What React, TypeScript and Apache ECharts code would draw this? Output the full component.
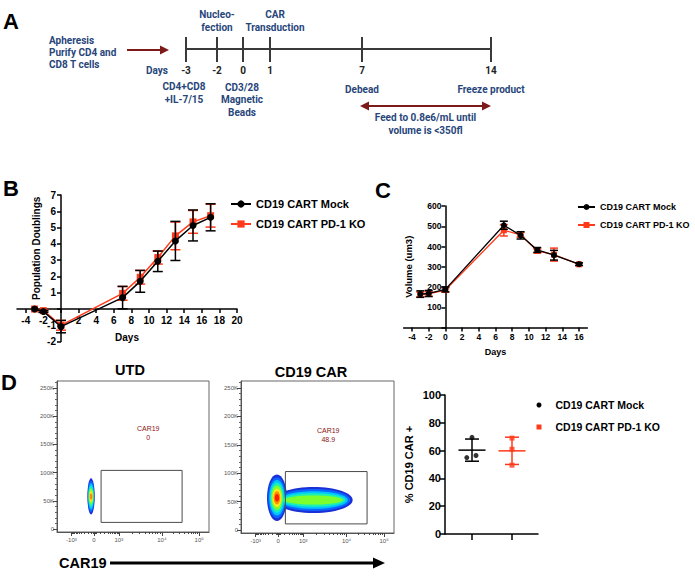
import React, { useEffect, useRef } from "react";
import * as echarts from "echarts";

const F = "'Liberation Sans', Arial, Helvetica, sans-serif";
const FA = "Roboto, 'Liberation Sans', sans-serif";
const RED = "#ff3a1a";
const NAVY = "#28467a";
const DARKRED = "#7d1b1b";
const MOCK = "CD19 CART Mock";
const KO = "CD19 CART PD-1 KO";

// ---- Panel A (schematic timeline)
const timelineDays = ["-3", "-2", "0", "1", "7", "14"];
const timelinePx = [186, 217, 243, 270, 362, 491];

// ---- Panel B: population doublings
const popDays = [-3, -2, 0, 7, 9, 11, 13, 15, 17];
const popMock = [0, -0.15, -1.08, 0.7, 1.7, 2.93, 4.18, 5.13, 5.63];
const popMockSD = [0, 0.06, 0.38, 0.69, 0.67, 0.63, 1.2, 0.95, 0.83];
const popKO = [0, -0.1, -1.0, 0.96, 1.95, 3.16, 4.49, 5.35, 5.73];
const popKOSD = [0, 0.05, 0.3, 0.42, 0.42, 0.4, 0.85, 0.7, 0.7];
const popXTicks = [-4, -2, 0, 2, 4, 6, 8, 10, 12, 14, 16, 18, 20];
const popXLabels = [-4, -2, 2, 4, 6, 8, 10, 12, 14, 16, 18, 20];
const popYTicks = [-2, -1, 0, 1, 2, 3, 4, 5, 6, 7];
const popYLabels = [-2, -1, 1, 2, 3, 4, 5, 6, 7];

// ---- Panel C: cell volume
const volDays = [-3, -2, 0, 7, 9, 11, 13, 16];
const volMock = [165, 168, 188, 505, 455, 383, 357, 313];
const volMockSD = [16, 15, 12, 20, 18, 12, 24, 6];
const volKO = [163, 166, 185, 480, 458, 378, 360, 312];
const volKOSD = [12, 12, 10, 28, 12, 10, 32, 7];
const volXTicks = [-4, -2, 0, 2, 4, 6, 8, 10, 12, 14, 16];
const volYTicks = [0, 100, 200, 300, 400, 500, 600];
const volYLabels = [100, 200, 300, 400, 500, 600];

// ---- Panel D: flow plots
const flowXTicks = [9.5, 24.3, 40.7, 69, 93.5];
const flowXLabels = ["-10³", "0", "10³", "10⁴", "10⁵"];
const flowYTicks = [0, 50000, 100000, 150000, 200000, 250000];
const flowYLabels = ["0", "50K", "100K", "150K", "200K", "250K"];
// [x, y, rx, ry, peak level, inner x scale, inner y scale]
const utdEvents = [[22.4, 58000, 2.4, 32000, 6, 0.4, 0.18]];
const carEvents = [
  [47.5, 53000, 25.5, 23000, 4, 0.75, 0.35],
  [23.5, 57000, 6.5, 41000, 7, 0.22, 0.16],
];
const utdGate = [[29, 12000, 82.3, 104000, 60, 170000]];
const carGate = [[29, 11000, 82.4, 103000, 57, 168000]];
const utdGateLabel = ["CAR19", "0"];
const carGateLabel = ["CAR19", "48.9"];

// ---- Panel D: % CAR+
const mockCAR = [69.5, 55, 56.5];
const mockJitter = [1.0, 0.87, 1.1];
const koCAR = [69, 61, 49.5];
const koJitter = [2, 2, 2];

const densityColors = ["#1b2fd6", "#0a66ff", "#00c4ff", "#1cf0b4", "#7dff2e", "#ffe61a", "#ff8c00", "#ff1c00"];

function biexPos(v: number) {
  const a = Math.asinh(Math.abs(v) / 150) / Math.asinh(1000 / 150);
  if (Math.abs(v) <= 1000) return v >= 0 ? 24.3 + 16.4 * a : 24.3 - 14.8 * a;
  if (v <= 10000) return 40.7 + 28.3 * Math.log10(v / 1000);
  return 69 + 24.5 * Math.log10(v / 10000);
}
const minorVals: number[] = [];
for (let k = 1; k <= 9; k++) { minorVals.push(-k * 100, k * 100); }
[-40, -20, 20, 40].forEach((v) => minorVals.push(v));
for (let k = 2; k <= 9; k++) { minorVals.push(k * 1000, k * 10000); }
const flowMinorX = minorVals.map(biexPos).filter((p) => p > 0 && p < 100);
const flowMinorY: number[] = [];
for (let v = 10000; v <= 260000; v += 10000) if (v % 50000 !== 0) flowMinorY.push(v);

const mean = (a: number[]) => a.reduce((s, v) => s + v, 0) / a.length;
const sd = (a: number[]) => {
  const m = mean(a);
  return Math.sqrt(a.reduce((s, v) => s + (v - m) * (v - m), 0) / (a.length - 1));
};

function errorBars(cap: number, lw: number) {
  return (params: any, api: any) => {
    const x = api.value(0);
    const top = api.coord([x, api.value(2)]);
    const bot = api.coord([x, api.value(1)]);
    const style = { stroke: api.visual("color"), lineWidth: lw, fill: null };
    return {
      type: "group",
      children: [
        { type: "line", shape: { x1: top[0], y1: top[1], x2: bot[0], y2: bot[1] }, style },
        { type: "line", shape: { x1: top[0] - cap, y1: top[1], x2: top[0] + cap, y2: top[1] }, style },
        { type: "line", shape: { x1: bot[0] - cap, y1: bot[1], x2: bot[0] + cap, y2: bot[1] }, style },
      ],
    };
  };
}

function meanSD(halfW: number, cap: number, lw: number) {
  return (params: any, api: any) => {
    const x = api.value(0), m = api.value(1), s = api.value(2);
    const pm = api.coord([x, m]);
    const pt = api.coord([x, m + s]);
    const pb = api.coord([x, m - s]);
    const style = { stroke: api.visual("color"), lineWidth: lw, fill: null };
    return {
      type: "group",
      children: [
        { type: "line", shape: { x1: pm[0] - halfW, y1: pm[1], x2: pm[0] + halfW, y2: pm[1] }, style },
        { type: "line", shape: { x1: pt[0], y1: pt[1], x2: pb[0], y2: pb[1] }, style },
        { type: "line", shape: { x1: pt[0] - cap, y1: pt[1], x2: pt[0] + cap, y2: pt[1] }, style },
        { type: "line", shape: { x1: pb[0] - cap, y1: pb[1], x2: pb[0] + cap, y2: pb[1] }, style },
      ],
    };
  };
}

function density(params: any, api: any) {
  const c = api.coord([api.value(0), api.value(1)]);
  const s = api.size([api.value(2), api.value(3)]);
  const peak = api.value(4), kx = api.value(5), ky = api.value(6);
  const children: any[] = [];
  for (let i = 0; i <= peak; i++) {
    const t = peak === 0 ? 0 : i / peak;
    children.push({
      type: "ellipse",
      z2: i,
      shape: { cx: c[0], cy: c[1], rx: s[0] * (1 - t * (1 - kx)), ry: s[1] * (1 - t * (1 - ky)) },
      style: { fill: densityColors[i] },
    });
  }
  return { type: "group", children };
}

function gate(labelLines: string[]) {
  return (params: any, api: any) => {
    const p1 = api.coord([api.value(0), api.value(3)]);
    const p2 = api.coord([api.value(2), api.value(1)]);
    const pl = api.coord([api.value(4), api.value(5)]);
    return {
      type: "group",
      children: [
        { type: "rect", z2: 20, shape: { x: p1[0], y: p1[1], width: p2[0] - p1[0], height: p2[1] - p1[1] }, style: { fill: "transparent", stroke: "#4a4a4a", lineWidth: 1 } },
        { type: "text", z2: 20, x: pl[0], y: pl[1], style: { text: labelLines.join("\n"), fill: "#8b1414", font: "7px " + F, align: "center", textAlign: "center", verticalAlign: "middle", textVerticalAlign: "middle", lineHeight: 9 } },
      ],
    };
  };
}

function txt(text: string, x: number, y: number, font: string, fill: string, align = "center", lineHeight = 12) {
  return {
    type: "text", x, y,
    style: { text, font, fill, align, textAlign: align, verticalAlign: "middle", textVerticalAlign: "middle", lineHeight },
  };
}

function buildGraphic() {
  const g: any[] = [];
  const ab = "bold 10px " + FA;
  // panel letters
  g.push(txt("A", 3, 21, "bold 22px " + F, "#000", "left"));
  g.push(txt("B", 3, 188, "bold 22px " + F, "#000", "left"));
  g.push(txt("C", 375, 190, "bold 22px " + F, "#000", "left"));
  g.push(txt("D", 1, 382, "bold 22px " + F, "#000", "left"));
  // timeline
  g.push({ type: "line", shape: { x1: timelinePx[0], y1: 49, x2: timelinePx[timelinePx.length - 1], y2: 49 }, style: { stroke: "#3a3a3a", lineWidth: 2 } });
  timelinePx.forEach((px, i) => {
    g.push({ type: "line", shape: { x1: px, y1: 37, x2: px, y2: 62 }, style: { stroke: "#3a3a3a", lineWidth: 2 } });
    g.push(txt(timelineDays[i], px, 70, ab, "#222"));
  });
  g.push(txt("Days", 157, 70, ab, NAVY));
  g.push(txt("Apheresis\nPurify CD4 and\nCD8 T cells", 49, 52, ab, NAVY, "left", 12));
  g.push({ type: "line", shape: { x1: 127, y1: 50, x2: 162, y2: 50 }, style: { stroke: DARKRED, lineWidth: 2 } });
  g.push({ type: "polygon", shape: { points: [[160, 45.5], [169, 50], [160, 54.5]] }, style: { fill: DARKRED } });
  g.push(txt("Nucleo-\nfection", 217, 21, ab, NAVY, "center", 12.5));
  g.push(txt("CAR\nTransduction", 275, 21, ab, NAVY, "center", 12.5));
  g.push(txt("CD4+CD8\n+IL-7/15", 184, 93, ab, NAVY, "center", 12.5));
  g.push(txt("CD3/28\nMagnetic\nBeads", 242, 99.5, ab, NAVY, "center", 12.5));
  g.push(txt("Debead", 362, 89, ab, NAVY));
  g.push(txt("Freeze product", 491, 89, ab, NAVY));
  g.push({ type: "line", shape: { x1: 366, y1: 106, x2: 485, y2: 106 }, style: { stroke: DARKRED, lineWidth: 2 } });
  g.push({ type: "polygon", shape: { points: [[360, 106], [369, 101.5], [369, 110.5]] }, style: { fill: DARKRED } });
  g.push({ type: "polygon", shape: { points: [[491, 106], [482, 101.5], [482, 110.5]] }, style: { fill: DARKRED } });
  g.push(txt("Feed to 0.8e6/mL until\nvolume is <350fl", 425.5, 124, ab, NAVY, "center", 12.5));
  // flow titles
  g.push(txt("UTD", 130, 370, "bold 14.5px " + F, "#000"));
  g.push(txt("CD19 CAR", 311, 372, "bold 14.5px " + F, "#000"));
  g.push(txt("CAR19", 59, 563, "bold 14.5px " + F, "#000", "left"));
  g.push({ type: "line", shape: { x1: 110, y1: 563, x2: 376, y2: 563 }, style: { stroke: "#000", lineWidth: 3 } });
  g.push({ type: "polygon", shape: { points: [[373, 557.5], [385, 563], [373, 568.5]] }, style: { fill: "#000" } });
  return g;
}

const axisLineBlack = { lineStyle: { color: "#000", width: 1.5 } };
const boldLabel = (size: number) => ({ fontFamily: F, fontWeight: "bold" as const, fontSize: size, color: "#000" });

function flowAxes(gridIndex: number) {
  const xMajor = {
    type: "value", gridIndex, min: 0, max: 100, position: "bottom",
    axisLine: { show: true, onZero: false, lineStyle: { color: "#555", width: 1 } },
    axisTick: { show: true, customValues: flowXTicks, length: 4, lineStyle: { color: "#444" } },
    axisLabel: { show: true, customValues: flowXTicks, margin: 5, fontSize: 6, fontFamily: F, color: "#555", formatter: (v: number) => flowXLabels[flowXTicks.indexOf(v)] ?? "" },
    splitLine: { show: false },
  };
  const xMinor = {
    type: "value", gridIndex, min: 0, max: 100, position: "bottom",
    axisLine: { show: false, onZero: false },
    axisTick: { show: true, customValues: flowMinorX, length: 2, lineStyle: { color: "#444" } },
    axisLabel: { show: false },
    splitLine: { show: false },
  };
  const yMajor = {
    type: "value", gridIndex, min: -5000, max: 262144, position: "left",
    axisLine: { show: true, onZero: false, lineStyle: { color: "#555", width: 1 } },
    axisTick: { show: true, customValues: flowYTicks, length: 4, lineStyle: { color: "#444" } },
    axisLabel: { show: true, customValues: flowYTicks, margin: 3, fontSize: 6, fontFamily: F, color: "#555", formatter: (v: number) => flowYLabels[flowYTicks.indexOf(v)] ?? "" },
    splitLine: { show: false },
  };
  const yMinor = {
    type: "value", gridIndex, min: -5000, max: 262144, position: "left",
    axisLine: { show: false, onZero: false },
    axisTick: { show: true, customValues: flowMinorY, length: 2, lineStyle: { color: "#666" } },
    axisLabel: { show: false },
    splitLine: { show: false },
  };
  return { xMajor, xMinor, yMajor, yMinor };
}

// grid geometry (B and C) so the axes cross at zero like the GraphPad originals
const gB = { left: 17, top: 195, width: 220, height: 146.6 };
const gC = { left: 403.6, top: 206, width: 183.8, height: 121.5 };
const bXRange = [-5, 20], bYRange = [-2, 7], cXRange = [-5, 17];
const bYOffset = -(gB.width * (0 - bXRange[0])) / (bXRange[1] - bXRange[0]);
const bXOffset = -(gB.height * (0 - bYRange[0])) / (bYRange[1] - bYRange[0]);
const cYOffset = -(gC.width * (0 - cXRange[0])) / (cXRange[1] - cXRange[0]);

function buildOption() {
  const f1 = flowAxes(2);
  const f2 = flowAxes(3);
  const errData = (xs: number[], ys: number[], sds: number[]) =>
    xs.map((x, i) => [x, ys[i] - sds[i], ys[i] + sds[i]]).filter((_, i) => sds[i] > 0);
  const zip = (xs: number[], ys: number[]) => xs.map((x, i) => [x, ys[i]]);

  return {
    animation: false,
    backgroundColor: "#fff",
    textStyle: { fontFamily: F },
    graphic: { elements: buildGraphic() },
    grid: [
      gB,
      gC,
      { left: 57, top: 381, width: 152, height: 151, show: true, borderColor: "#666", borderWidth: 1 },
      { left: 241, top: 381, width: 153, height: 152, show: true, borderColor: "#666", borderWidth: 1 },
      { left: 445, top: 395, width: 93, height: 139 },
    ],
    xAxis: [
      {
        type: "value", gridIndex: 0, min: bXRange[0], max: bXRange[1], position: "bottom", offset: bXOffset,
        axisLine: { onZero: false, ...axisLineBlack },
        axisTick: { customValues: popXTicks, length: 4, lineStyle: { color: "#000", width: 1.5 } },
        axisLabel: { customValues: popXLabels, margin: 6, ...boldLabel(10) },
        splitLine: { show: false },
        name: "Days", nameLocation: "middle", nameGap: 23, nameTextStyle: boldLabel(10),
      },
      {
        type: "value", gridIndex: 1, min: cXRange[0], max: cXRange[1], position: "bottom",
        axisLine: { onZero: false, ...axisLineBlack },
        axisTick: { customValues: volXTicks, length: 4, lineStyle: { color: "#000", width: 1.5 } },
        axisLabel: { customValues: volXTicks, margin: 5, ...boldLabel(8.5) },
        splitLine: { show: false },
        name: "Days", nameLocation: "middle", nameGap: 20, nameTextStyle: boldLabel(9),
      },
      f1.xMajor, f1.xMinor, f2.xMajor, f2.xMinor,
      {
        type: "value", gridIndex: 4, min: 0.325, max: 2.65,
        axisLine: { onZero: false, ...axisLineBlack },
        axisTick: { customValues: [1, 2], length: 6, lineStyle: { color: "#000", width: 1.5 } },
        axisLabel: { show: false },
        splitLine: { show: false },
      },
    ],
    yAxis: [
      {
        type: "value", gridIndex: 0, min: bYRange[0], max: bYRange[1], position: "left", offset: bYOffset,
        axisLine: { onZero: false, ...axisLineBlack },
        axisTick: { customValues: popYTicks, length: 4, lineStyle: { color: "#000", width: 1.5 } },
        axisLabel: { customValues: popYLabels, margin: 5, ...boldLabel(10) },
        splitLine: { show: false },
        name: "Population Doublings", nameLocation: "middle", nameGap: 20,
        nameTextStyle: { ...boldLabel(10), padding: [0, 0, 0, 40] },
      },
      {
        type: "value", gridIndex: 1, min: 0, max: 600, position: "left", offset: cYOffset,
        axisLine: { onZero: false, ...axisLineBlack },
        axisTick: { customValues: volYTicks, length: 4, lineStyle: { color: "#000", width: 1.5 } },
        axisLabel: { customValues: volYLabels, margin: 4, ...boldLabel(8.5) },
        splitLine: { show: false },
        name: "Volume (um3)", nameLocation: "middle", nameGap: 32, nameTextStyle: boldLabel(9.5),
      },
      f1.yMajor, f1.yMinor, f2.yMajor, f2.yMinor,
      {
        type: "value", gridIndex: 4, min: 0, max: 100, interval: 20,
        axisLine: { onZero: false, ...axisLineBlack },
        axisTick: { length: 5, lineStyle: { color: "#000", width: 1.5 } },
        axisLabel: { margin: 4, ...boldLabel(11) },
        splitLine: { show: false },
        name: "% CD19 CAR +", nameLocation: "middle", nameGap: 31, nameTextStyle: boldLabel(11),
      },
    ],
    legend: [
      {
        left: 230, top: 197.5, orient: "vertical", padding: 0, itemWidth: 20, itemHeight: 9, itemGap: 7,
        textStyle: { ...boldLabel(11), lineHeight: 13 }, data: [MOCK, KO], selectedMode: false,
      },
      {
        left: 577, top: 201.5, orient: "vertical", padding: 0, itemWidth: 17, itemHeight: 7.5, itemGap: 7,
        textStyle: { ...boldLabel(9), lineHeight: 11 }, data: [MOCK, KO], selectedMode: false,
      },
      {
        left: 536.5, top: 399, orient: "vertical", padding: 0, itemWidth: 5, itemHeight: 5, itemGap: 10,
        textStyle: { ...boldLabel(10.5), lineHeight: 12, padding: [0, 0, 0, 9] },
        data: [{ name: MOCK, icon: "circle" }, { name: KO, icon: "rect" }], selectedMode: false,
      },
    ],
    series: [
      // Panel B
      { type: "line", name: KO, xAxisIndex: 0, yAxisIndex: 0, data: zip(popDays, popKO), color: RED, symbol: "rect", symbolSize: 7, lineStyle: { width: 1.5 }, z: 2 },
      { type: "custom", name: "koErrB", xAxisIndex: 0, yAxisIndex: 0, data: errData(popDays, popKO, popKOSD), itemStyle: { color: RED }, renderItem: errorBars(5, 1.5), z: 2 },
      { type: "line", name: MOCK, xAxisIndex: 0, yAxisIndex: 0, data: zip(popDays, popMock), color: "#000", symbol: "circle", symbolSize: 7, lineStyle: { width: 1.5 }, z: 3 },
      { type: "custom", name: "mockErrB", xAxisIndex: 0, yAxisIndex: 0, data: errData(popDays, popMock, popMockSD), itemStyle: { color: "#000" }, renderItem: errorBars(5, 1.5), z: 3 },
      // Panel C
      { type: "line", name: KO, xAxisIndex: 1, yAxisIndex: 1, data: zip(volDays, volKO), color: RED, symbol: "rect", symbolSize: 6, lineStyle: { width: 1.3 }, z: 2 },
      { type: "custom", name: "koErrC", xAxisIndex: 1, yAxisIndex: 1, data: errData(volDays, volKO, volKOSD), itemStyle: { color: RED }, renderItem: errorBars(4, 1.5), z: 2 },
      { type: "line", name: MOCK, xAxisIndex: 1, yAxisIndex: 1, data: zip(volDays, volMock), color: "#000", symbol: "circle", symbolSize: 6, lineStyle: { width: 1.3 }, z: 3 },
      { type: "custom", name: "mockErrC", xAxisIndex: 1, yAxisIndex: 1, data: errData(volDays, volMock, volMockSD), itemStyle: { color: "#000" }, renderItem: errorBars(4, 1.5), z: 3 },
      // Flow plots
      { type: "custom", name: "utdDensity", xAxisIndex: 2, yAxisIndex: 2, data: utdEvents, renderItem: density, clip: true },
      { type: "custom", name: "utdGate", xAxisIndex: 2, yAxisIndex: 2, data: utdGate, renderItem: gate(utdGateLabel), z: 4 },
      { type: "custom", name: "carDensity", xAxisIndex: 4, yAxisIndex: 4, data: carEvents, renderItem: density, clip: true },
      { type: "custom", name: "carGate", xAxisIndex: 4, yAxisIndex: 4, data: carGate, renderItem: gate(carGateLabel), z: 4 },
      // Panel D dot plot
      { type: "custom", name: "mockMean", xAxisIndex: 6, yAxisIndex: 6, data: [[1, mean(mockCAR), sd(mockCAR)]], itemStyle: { color: "#000" }, renderItem: meanSD(13.5, 7, 1.5) },
      { type: "custom", name: "koMean", xAxisIndex: 6, yAxisIndex: 6, data: [[2, mean(koCAR), sd(koCAR)]], itemStyle: { color: RED }, renderItem: meanSD(13.5, 7, 1.5) },
      { type: "scatter", name: MOCK, xAxisIndex: 6, yAxisIndex: 6, data: zip(mockJitter, mockCAR), color: "#000", symbol: "circle", symbolSize: 5, z: 3 },
      { type: "scatter", name: KO, xAxisIndex: 6, yAxisIndex: 6, data: zip(koJitter, koCAR), color: RED, symbol: "rect", symbolSize: 5, z: 3 },
    ],
  };
}

export default function App() {
  const ref = useRef<HTMLDivElement>(null);
  useEffect(() => {
    if (!ref.current) return;
    const chart = echarts.init(ref.current, undefined, { renderer: "svg" });
    chart.setOption(buildOption() as any);
    return () => chart.dispose();
  }, []);
  return (
    <div
      ref={ref}
      style={{ position: "fixed", left: 0, top: 0, width: 695, height: 580, background: "#fff" }}
    />
  );
}
